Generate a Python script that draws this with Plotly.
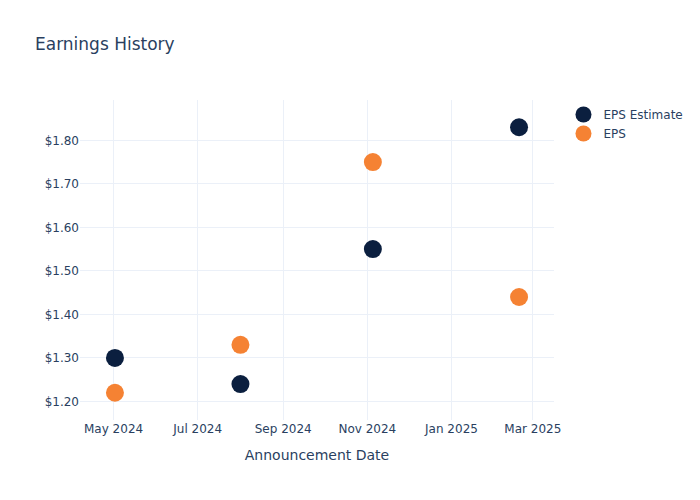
import plotly.graph_objects as go

dates = ["2024-05-02", "2024-08-01", "2024-11-05", "2025-02-19"]
eps_estimate = [1.30, 1.24, 1.55, 1.83]
eps_actual = [1.22, 1.33, 1.75, 1.44]

fig = go.Figure()
fig.add_trace(go.Scatter(x=dates, y=eps_estimate, mode="markers", name="EPS Estimate",
                         marker=dict(color="#0b1f3f", size=18)))
fig.add_trace(go.Scatter(x=dates, y=eps_actual, mode="markers", name="EPS",
                         marker=dict(color="#f58233", size=18)))
fig.update_layout(
    template="plotly_white",
    width=700, height=500,
    font=dict(family="DejaVu Sans"),
    title=dict(text="Earnings History"),
    xaxis=dict(title="Announcement Date", dtick="M2", tickformat="%b %Y"),
    yaxis=dict(tickprefix="$", tickformat=".2f"),
)
fig.write_html("out.html", config={"displayModeBar": False},
               post_script="document.body.style.margin='0';")
